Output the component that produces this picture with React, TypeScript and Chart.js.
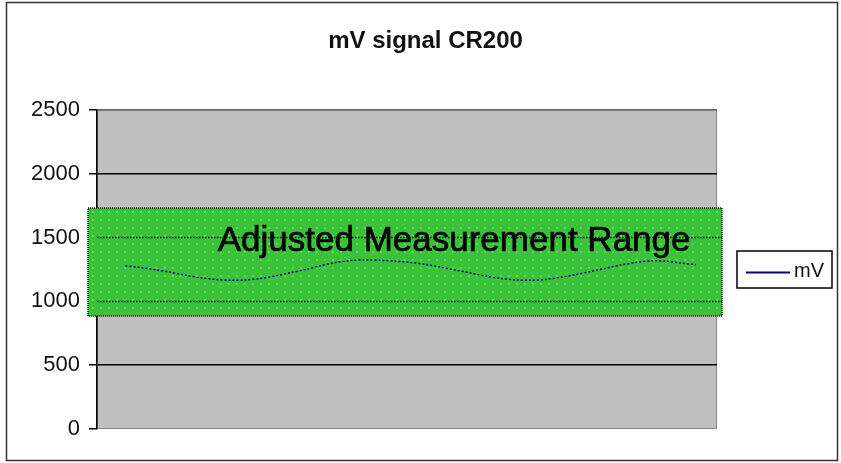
import React, { useEffect, useRef } from "react";
import { Chart, registerables } from "chart.js";

Chart.register(...registerables);

const chartTitle = "mV signal CR200";
const seriesLabel = "mV";
const rangeLabel = "Adjusted Measurement Range";
const rangeLow = 886;
const rangeHigh = 1732;
const yTicks = [0, 500, 1000, 1500, 2000, 2500];
const mvValues = [
  1278, 1265, 1248, 1228, 1205, 1185, 1172, 1165, 1168, 1180,
  1200, 1225, 1250, 1280, 1305, 1320, 1325, 1322, 1315, 1305,
  1290, 1268, 1245, 1222, 1198, 1180, 1168, 1165, 1172, 1190,
  1210, 1235, 1260, 1285, 1305, 1318, 1315, 1300, 1288,
];
const sampleIndex = mvValues.map((_, i) => i);

const FONT = "'Liberation Sans', Arial, sans-serif";

const decorPlugin = {
  id: "decor",
  beforeDraw(chart: any) {
    const { ctx, chartArea: a } = chart;
    ctx.save();
    ctx.fillStyle = "#ffffff";
    ctx.fillRect(0, 0, chart.width, chart.height);
    ctx.fillStyle = "#c0c0c0";
    ctx.fillRect(a.left, a.top, a.right - a.left, a.bottom - a.top);
    ctx.strokeStyle = "#8a8a8a";
    ctx.lineWidth = 1;
    ctx.strokeRect(a.left + 0.5, a.top + 0.5, a.right - a.left - 1, a.bottom - a.top - 1);
    ctx.restore();
  },
  beforeDatasetsDraw(chart: any) {
    const { ctx, chartArea: a } = chart;
    const y = chart.scales.y;
    const top = y.getPixelForValue(rangeHigh);
    const bot = y.getPixelForValue(rangeLow);
    const left = a.left - 9;
    const right = a.right + 5;
    ctx.save();
    ctx.fillStyle = "#3bc23b";
    ctx.fillRect(left, top, right - left, bot - top);
    ctx.fillStyle = "rgba(120,235,120,0.55)";
    for (let yy = Math.ceil(top) + 3; yy < bot - 1; yy += 8) {
      for (let xx = Math.ceil(left) + 4; xx < right - 1; xx += 8) {
        ctx.fillRect(xx, yy, 2, 2);
      }
    }
    ctx.strokeStyle = "#0a0a0a";
    ctx.lineWidth = 1.5;
    ctx.setLineDash([1.5, 1.5]);
    for (const v of yTicks) {
      const py = y.getPixelForValue(v);
      if (py > top + 1 && py < bot - 1) {
        ctx.beginPath();
        ctx.moveTo(a.left, py);
        ctx.lineTo(right, py);
        ctx.stroke();
      }
    }
    ctx.strokeStyle = "#111";
    ctx.lineWidth = 1.5;
    ctx.setLineDash([1, 1]);
    ctx.strokeRect(left, top, right - left, bot - top);
    ctx.setLineDash([]);
    ctx.restore();
  },
  afterDatasetsDraw(chart: any) {
    const { ctx, chartArea: a } = chart;
    const y = chart.scales.y;
    ctx.save();
    ctx.font = `35px ${FONT}`;
    ctx.fillStyle = "#050505";
    ctx.strokeStyle = "#050505";
    ctx.lineWidth = 0.7;
    ctx.textAlign = "center";
    ctx.textBaseline = "alphabetic";
    const tx = a.left + (a.right - a.left) * 0.576;
    const ty = y.getPixelForValue(1500) + 13;
    ctx.fillText(rangeLabel, tx, ty);
    ctx.strokeText(rangeLabel, tx, ty);

    ctx.font = `bold 24px ${FONT}`;
    ctx.fillStyle = "#111";
    ctx.fillText(chartTitle, chart.width / 2 + 5, 48);

    const lx = a.right + 20;
    const lw = 95;
    const lh = 37;
    const ly = (a.top + a.bottom) / 2 - lh / 2;
    ctx.fillStyle = "#fff";
    ctx.fillRect(lx, ly, lw, lh);
    ctx.strokeStyle = "#000";
    ctx.lineWidth = 1.5;
    ctx.strokeRect(lx, ly, lw, lh);
    const ds = chart.data.datasets[0];
    ctx.strokeStyle = ds.borderColor;
    ctx.lineWidth = 2;
    ctx.beginPath();
    ctx.moveTo(lx + 9, ly + lh / 2 + 3);
    ctx.lineTo(lx + 53, ly + lh / 2 + 3);
    ctx.stroke();
    ctx.fillStyle = "#111";
    ctx.font = `20px ${FONT}`;
    ctx.textAlign = "left";
    ctx.textBaseline = "middle";
    ctx.fillText(ds.label, lx + 57, ly + lh / 2 + 2);

    ctx.strokeStyle = "#333";
    ctx.lineWidth = 1.5;
    ctx.strokeRect(6.5, 2.5, 831, 458);
    ctx.restore();
  },
};

export default function App() {
  const ref = useRef<HTMLCanvasElement | null>(null);
  useEffect(() => {
    document.body.style.margin = "0";
    const chart = new Chart(ref.current!, {
      type: "line",
      data: {
        labels: sampleIndex,
        datasets: [
          {
            label: seriesLabel,
            data: sampleIndex.map((x, i) => ({ x, y: mvValues[i] })),
            borderColor: "#000070",
            borderWidth: 1.5,
            borderDash: [2, 2],
            pointRadius: 0,
            tension: 0.3,
            fill: false,
          },
        ],
      },
      options: {
        animation: false,
        responsive: false,
        layout: { padding: { left: 8, right: 124, top: 110, bottom: 34 } },
        plugins: {
          legend: { display: false },
          tooltip: { enabled: false },
          title: { display: false },
        },
        scales: {
          x: {
            type: "linear",
            display: false,
            min: -1.9,
            max: 39.4,
          },
          y: {
            min: 0,
            max: 2500,
            afterBuildTicks(scale: any) {
              scale.ticks = yTicks.map((v) => ({ value: v }));
            },
            afterFit(scale: any) {
              scale.width = 89;
            },
            ticks: {
              color: "#111",
              font: { family: FONT, size: 22 },
              padding: 9,
              callback: (v: any) => String(v),
            },
            grid: {
              color: (c: any) => (c.tick && c.tick.value === 2500 ? "#6a6a6a" : c.tick && c.tick.value === 0 ? "rgba(0,0,0,0)" : "#000"),
              lineWidth: 1.5,
              tickLength: 8,
              tickColor: "#000",
              drawTicks: true,
            },
            border: { color: "#000", width: 1.5 },
          },
        },
      },
      plugins: [decorPlugin],
    });
    return () => chart.destroy();
  }, []);
  return <canvas ref={ref} width={841} height={463} style={{ display: "block" }} />;
}
